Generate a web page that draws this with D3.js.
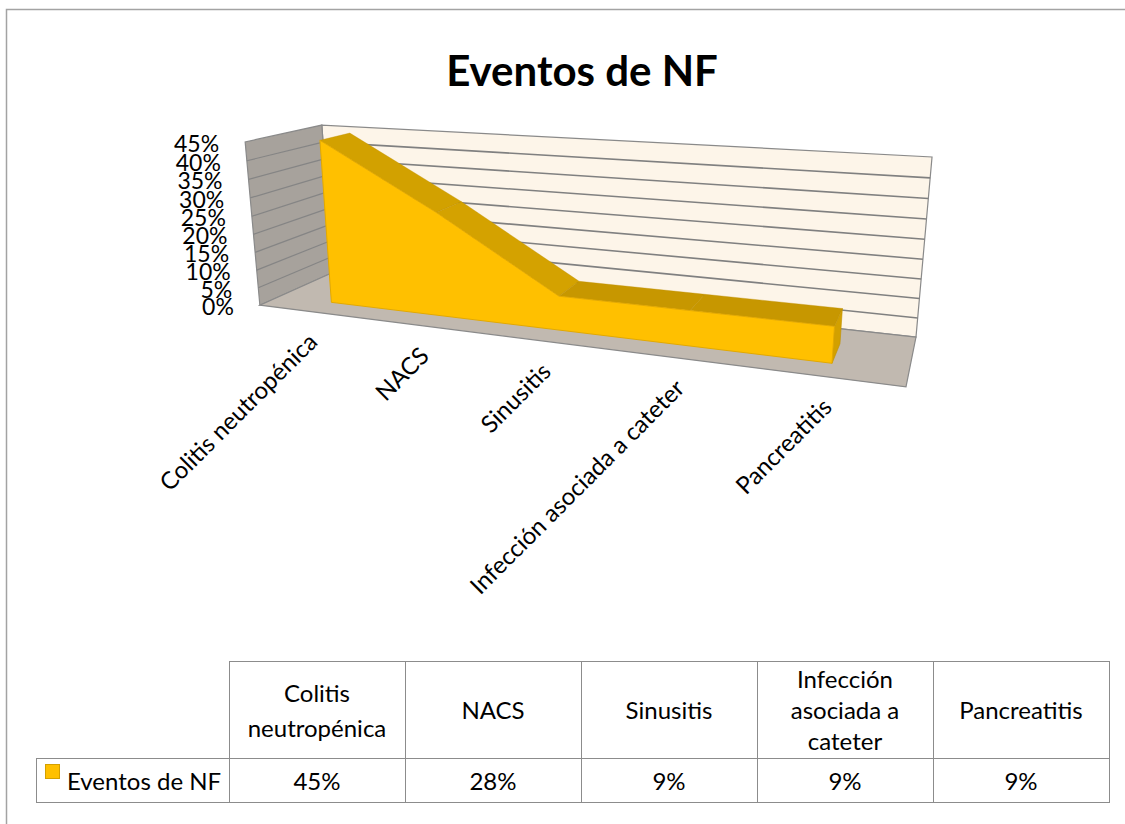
<!DOCTYPE html>
<html lang="es">
<head>
<meta charset="UTF-8">
<title>Eventos de NF</title>
<script src="https://d3js.org/d3.v7.min.js"></script>
<style>
  body { margin: 0; background: #fff; font-family: Lato, "Open Sans", sans-serif; }
</style>
</head>
<body>
<div id="chart"></div>
<script>
const categories = ["Colitis neutropénica", "NACS", "Sinusitis", "Infección asociada a cateter", "Pancreatitis"];
const values = [0.45, 0.28, 0.09, 0.09, 0.09];
const yTicks = [0, 0.05, 0.10, 0.15, 0.20, 0.25, 0.30, 0.35, 0.40, 0.45];
const seriesName = "Eventos de NF";
const title = "Eventos de NF";

const width = 1125, height = 824;
const svg = d3.select("#chart").append("svg")
  .attr("width", width).attr("height", height);

// marco exterior
svg.append("rect")
  .attr("x", 6.5).attr("y", 9.5).attr("width", 1130).attr("height", 830)
  .attr("fill", "none").attr("stroke", "#a3a3a3").attr("stroke-width", 1.5);

// titulo
svg.append("text")
  .attr("x", 582).attr("y", 86)
  .attr("text-anchor", "middle")
  .style("font-size", "42px").style("font-weight", "bold")
  .text(title);

// proyeccion perspectiva: (u = categoria, v = valor, w = profundidad) -> pantalla
// se ajusta con las esquinas de la caja 3D
const boxCorners = [
  [0, 1, 0, 322, 125],
  [1, 1, 0, 932, 157],
  [0, 0, 0, 332, 273],
  [1, 0, 0, 916, 337],
  [0, 0, 1, 260, 305],
  [1, 0, 1, 906, 387],
  [0, 1, 1, 245, 142]
];

function fitProjection(pairs) {
  const A = [], b = [];
  pairs.forEach(([X, Y, Z, x, y]) => {
    A.push([X, Y, Z, 1, 0, 0, 0, 0, -x * X, -x * Y, -x * Z]); b.push(x);
    A.push([0, 0, 0, 0, X, Y, Z, 1, -y * X, -y * Y, -y * Z]); b.push(y);
  });
  const n = 11;
  const M = [];
  for (let i = 0; i < n; i++) {
    const row = [];
    for (let j = 0; j < n; j++) {
      let s = 0;
      for (let k = 0; k < A.length; k++) s += A[k][i] * A[k][j];
      row.push(s);
    }
    let s = 0;
    for (let k = 0; k < A.length; k++) s += A[k][i] * b[k];
    row.push(s);
    M.push(row);
  }
  for (let c = 0; c < n; c++) {
    let piv = c;
    for (let r = c + 1; r < n; r++) if (Math.abs(M[r][c]) > Math.abs(M[piv][c])) piv = r;
    [M[c], M[piv]] = [M[piv], M[c]];
    for (let r = 0; r < n; r++) {
      if (r === c) continue;
      const f = M[r][c] / M[c][c];
      for (let k = c; k <= n; k++) M[r][k] -= f * M[c][k];
    }
  }
  return M.map((row, i) => row[n] / row[i]);
}

const P = fitProjection(boxCorners);
function project(u, v, w) {
  const d = P[8] * u + P[9] * v + P[10] * w + 1;
  return [(P[0] * u + P[1] * v + P[2] * w + P[3]) / d,
          (P[4] * u + P[5] * v + P[6] * w + P[7]) / d];
}
const poly = pts => "M" + pts.map(p => project(...p).join(",")).join("L") + "Z";
const seg = (a, b) => "M" + project(...a).join(",") + "L" + project(...b).join(",");

const xCat = d3.scalePoint().domain(categories).range([0, 1]).padding(0.5);
const yVal = d3.scaleLinear().domain([0, 0.45]).range([0, 1]);

const edge = "#8a8a8a";
const g = svg.append("g");

// paredes y piso
g.append("path").attr("d", poly([[0, 0, 0], [1, 0, 0], [1, 1, 0], [0, 1, 0]]))
  .attr("fill", "#fdf5e9").attr("stroke", edge).attr("stroke-width", 1.2);
g.append("path").attr("d", poly([[0, 0, 0], [0, 1, 0], [0, 1, 1], [0, 0, 1]]))
  .attr("fill", "#a7a29c").attr("stroke", edge).attr("stroke-width", 1.2);
g.append("path").attr("d", poly([[0, 0, 0], [1, 0, 0], [1, 0, 1], [0, 0, 1]]))
  .attr("fill", "#c1b9b0").attr("stroke", edge).attr("stroke-width", 1.2);

// lineas de division
const gridTicks = yTicks.filter(t => t > 0 && t < 0.45);
g.selectAll(".gridBack").data(gridTicks).enter().append("path")
  .attr("d", t => seg([0, yVal(t), 0], [1, yVal(t), 0]))
  .attr("stroke", "#808080").attr("stroke-width", 1.6).attr("fill", "none");
g.selectAll(".gridSide").data(gridTicks).enter().append("path")
  .attr("d", t => seg([0, yVal(t), 0], [0, yVal(t), 1]))
  .attr("stroke", "#858585").attr("stroke-width", 1.2).attr("fill", "none");

// etiquetas del eje de valores
g.selectAll(".ylab").data(yTicks).enter().append("text")
  .attr("x", t => project(0, yVal(t), 1)[0] - 26)
  .attr("y", t => project(0, yVal(t), 1)[1] + 1)
  .attr("text-anchor", "end").attr("dominant-baseline", "central")
  .style("font-size", "23px")
  .text(d3.format(".0%"));

// area 3D
const wb = 0.33, wf = 0.74;
const pts = categories.map((c, i) => ({ u: xCat(c), v: yVal(values[i]) }));
const slopeShade = d3.scaleLinear().domain([0, 0.5]).range(["#c79700", "#d6a400"]).clamp(true);

for (let i = 0; i < pts.length - 1; i++) {
  const a = pts[i], b = pts[i + 1];
  g.append("path")
    .attr("d", poly([[a.u, a.v, wb], [b.u, b.v, wb], [b.u, b.v, wf], [a.u, a.v, wf]]))
    .attr("fill", slopeShade(Math.abs(a.v - b.v)))
    .attr("stroke", "#bf9000").attr("stroke-width", 0.6).attr("stroke-opacity", 0.6);
}
const last = pts[pts.length - 1];
g.append("path")
  .attr("d", poly([[last.u, 0, wb], [last.u, last.v, wb], [last.u, last.v, wf], [last.u, 0, wf]]))
  .attr("fill", "#d2a000").attr("stroke", "#bf9000").attr("stroke-width", 0.6);

const front = pts.map(p => [p.u, p.v, wf]).concat([[last.u, 0, wf], [pts[0].u, 0, wf]]);
g.append("path").attr("d", poly(front))
  .attr("fill", "#ffc000").attr("stroke", "#e3a900").attr("stroke-width", 1);

// etiquetas de categorias
g.selectAll(".xlab").data(categories).enter().append("text")
  .attr("transform", c => {
    const [x, y] = project(xCat(c), 0, 1);
    return `translate(${x},${y + 25}) rotate(-45)`;
  })
  .attr("text-anchor", "end").attr("dominant-baseline", "central")
  .style("font-size", "24px")
  .text(c => c);

// tabla de datos
const tableLeft = 36, firstCol = 229, colW = 176, tableTop = 661, headH = 97, rowH = 44;
const tableRight = firstCol + colW * categories.length;
const tg = svg.append("g").attr("stroke", "#8c8c8c").attr("stroke-width", 1).attr("fill", "none");
tg.append("rect").attr("x", firstCol + 0.5).attr("y", tableTop + 0.5)
  .attr("width", tableRight - firstCol).attr("height", headH + rowH);
tg.append("rect").attr("x", tableLeft + 0.5).attr("y", tableTop + headH + 0.5)
  .attr("width", tableRight - tableLeft).attr("height", rowH);
categories.forEach((c, i) => {
  if (i > 0) tg.append("line")
    .attr("x1", firstCol + colW * i + 0.5).attr("x2", firstCol + colW * i + 0.5)
    .attr("y1", tableTop).attr("y2", tableTop + headH + rowH);
});

const cellFont = 24;
function wrapWords(text, maxW, size) {
  const probe = svg.append("text").style("font-size", size + "px");
  const words = text.split(" ");
  const lines = [];
  let line = "";
  words.forEach(w => {
    const t = line ? line + " " + w : w;
    probe.text(t);
    if (probe.node().getComputedTextLength() > maxW && line) { lines.push(line); line = w; }
    else line = t;
  });
  lines.push(line);
  probe.remove();
  return lines;
}

categories.forEach((c, i) => {
  const lines = wrapWords(c, 160, cellFont);
  const lh = lines.length > 2 ? 31 : 35;
  const cx = firstCol + colW * i + colW / 2;
  const cy = tableTop + headH / 2;
  const t = svg.append("text").attr("text-anchor", "middle").style("font-size", cellFont + "px");
  lines.forEach((l, k) => {
    t.append("tspan").attr("x", cx)
      .attr("y", cy + (k - (lines.length - 1) / 2) * lh)
      .attr("dominant-baseline", "central").text(l);
  });
  svg.append("text").attr("x", cx).attr("y", tableTop + headH + rowH / 2)
    .attr("text-anchor", "middle").attr("dominant-baseline", "central")
    .style("font-size", cellFont + "px").text(d3.format(".0%")(values[i]));
});

svg.append("rect").attr("x", 45.5).attr("y", 764.5).attr("width", 14).attr("height", 14)
  .attr("fill", "#ffc000").attr("stroke", "#d4a000");
svg.append("text").attr("x", 67).attr("y", tableTop + headH + rowH / 2)
  .attr("dominant-baseline", "central").style("font-size", cellFont + "px").text(seriesName);
</script>
</body>
</html>
